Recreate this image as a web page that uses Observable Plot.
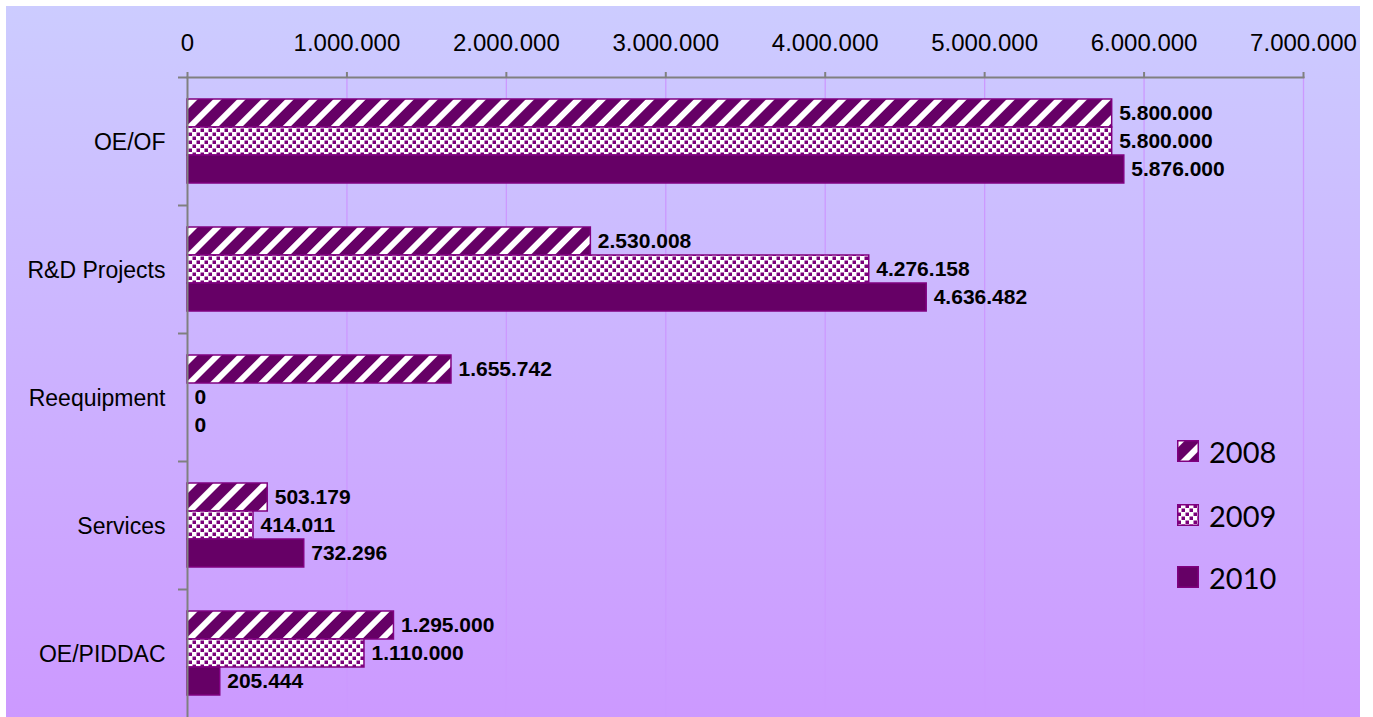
<!DOCTYPE html>
<html><head><meta charset="utf-8">
<script src="https://cdn.jsdelivr.net/npm/d3@7"></script>
<script src="https://cdn.jsdelivr.net/npm/@observablehq/plot@0.6"></script>
<style>
body{margin:0;background:#fff;}
#wrap{position:relative;width:1373px;height:717px;overflow:hidden;}
#bg{position:absolute;left:6px;top:6px;width:1354px;height:711px;background:linear-gradient(#ccccff,#cc99ff);}
#chart{position:absolute;left:0;top:0;}
#legend{position:absolute;left:1177px;top:0;font-family:Lato,"Open Sans",sans-serif;font-size:29px;color:#000;}
.item{position:absolute;left:0;height:22px;display:flex;align-items:center;white-space:nowrap;}
.item svg{display:block;margin-right:10px;}
</style></head>
<body><div id="wrap"><div id="bg"></div><div id="chart"></div><div id="legend"></div></div>
<script>
const categories = ["OE/OF", "R&D Projects", "Reequipment", "Services", "OE/PIDDAC"];
const years = ["2008", "2009", "2010"];
const values2008 = [5800000, 2530008, 1655742, 503179, 1295000];
const values2009 = [5800000, 4276158, 0, 414011, 1110000];
const values2010 = [5876000, 4636482, 0, 732296, 205444];
const xTicks = [0, 1000000, 2000000, 3000000, 4000000, 5000000, 6000000, 7000000];

const series = {"2008": values2008, "2009": values2009, "2010": values2010};
const data = [];
categories.forEach((c, i) => years.forEach(y => data.push({category: c, year: y, value: series[y][i]})));

const fmt = d3.formatLocale({decimal: ",", thousands: ".", grouping: [3], currency: ["", ""]}).format(",");

const plot = Plot.plot({
  width: 1373, height: 717,
  marginLeft: 187, marginRight: 70, marginTop: 77, marginBottom: 0,
  style: {background: "transparent", fontFamily: "'Liberation Sans', Arial, sans-serif", overflow: "visible", color: "#000"},
  x: {domain: [0, 7000000]},
  y: {domain: years, paddingInner: 0, paddingOuter: 0.707, axis: null},
  fy: {domain: categories, padding: 0, label: null},
  color: {domain: years, range: ["url(#p2008)", "url(#p2009)", "#660066"]},
  marks: [
    Plot.gridX(xTicks.slice(1), {stroke: "#cc99ff", strokeOpacity: 1, strokeWidth: 1.3}),
    Plot.barX(data, {x: "value", y: "year", fy: "category", fill: "year", stroke: "#800080", strokeWidth: 1.5}),
    Plot.text(data, {x: "value", y: "year", fy: "category", text: d => fmt(d.value), textAnchor: "start", dx: 7,
      fontSize: 21, fontWeight: "bold", fill: "#000", letterSpacing: 0.2}),
    Plot.ruleX([0], {stroke: "#808080", strokeWidth: 2}),
    Plot.frame({anchor: "top", facet: "super", stroke: "#808080", strokeWidth: 2}),
    Plot.axisX(xTicks, {anchor: "top", tickSize: 6, tickPadding: 21, tickFormat: fmt, fontSize: 24,
      stroke: "#808080", strokeWidth: 2, label: null}),
    Plot.axisFy({anchor: "left", tickSize: 0, tickPadding: 22, fontSize: 23, label: null, letterSpacing: 1, dy: 1}),
    Plot.axisFy({anchor: "left", tickSize: 9, tickFormat: () => "", dy: -64, stroke: "#808080", strokeWidth: 2, label: null})
  ]
});

const defs = d3.select(plot).insert("defs", ":first-child");
const p1 = defs.append("pattern").attr("id", "p2008").attr("patternUnits", "userSpaceOnUse")
  .attr("width", 17).attr("height", 17).attr("patternTransform", "rotate(45)");
p1.append("rect").attr("width", 17).attr("height", 17).attr("fill", "#660066");
p1.append("rect").attr("width", 6).attr("height", 17).attr("fill", "#ffffff");
const p2 = defs.append("pattern").attr("id", "p2009").attr("patternUnits", "userSpaceOnUse")
  .attr("width", 8).attr("height", 8);
p2.append("rect").attr("width", 8).attr("height", 8).attr("fill", "#ffffff");
p2.append("rect").attr("x", 0.5).attr("y", 0.5).attr("width", 3.5).attr("height", 3.5).attr("fill", "#7a007a");
p2.append("rect").attr("x", 4.5).attr("y", 4.5).attr("width", 3.5).attr("height", 3.5).attr("fill", "#7a007a");

document.getElementById("chart").appendChild(plot);

const legendTops = [440, 504, 566];
const fills = {"2008": "url(#p2008)", "2009": "url(#p2009)", "2010": "#660066"};
const legend = d3.select("#legend");
years.forEach((y, i) => {
  const item = legend.append("div").attr("class", "item").style("top", legendTops[i] + "px");
  const s = item.append("svg").attr("width", 22).attr("height", 22);
  s.append("rect").attr("x", 0.75).attr("y", 0.75).attr("width", 20.5).attr("height", 20.5)
    .attr("fill", fills[y]).attr("stroke", "#800080").attr("stroke-width", 1.5);
  item.append("span").text(y);
});
</script>
</body></html>
